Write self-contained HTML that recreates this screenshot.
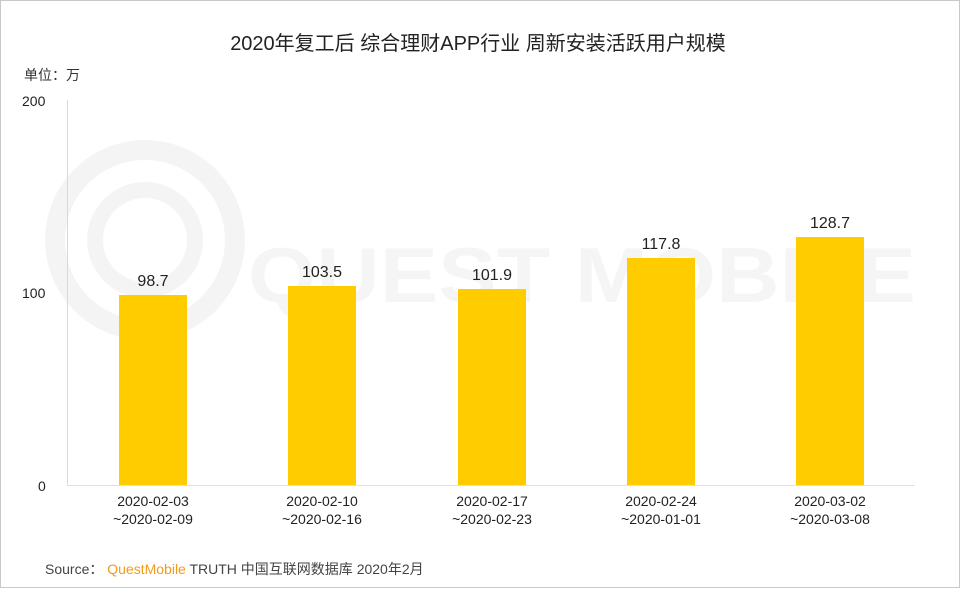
<!DOCTYPE html>
<html><head><meta charset="utf-8"><style>
body{margin:0;background:#fff}
svg text{font-family:"Liberation Sans","Noto Sans CJK SC",sans-serif}
</style></head><body>
<svg width="960" height="588" xmlns="http://www.w3.org/2000/svg">
<rect x="0.5" y="0.5" width="959" height="587" fill="#fff" stroke="#c8c8c8"/>
<g opacity="0.04" fill="none" stroke="#000">
<circle cx="145" cy="240" r="90" stroke-width="20"/>
<circle cx="145" cy="240" r="50" stroke-width="16"/>
</g>
<text x="248" y="302" font-size="78" fill="#000" opacity="0.035" font-weight="bold" textLength="668" lengthAdjust="spacingAndGlyphs">QUEST MOBILE</text>
<text x="478" y="50" font-size="20" text-anchor="middle" fill="#222">2020年复工后 综合理财APP行业 周新安装活跃用户规模</text>
<text x="24" y="80" font-size="14" fill="#333">单位：万</text>
<g font-size="14" fill="#222">
<text x="22" y="106">200</text>
<text x="22" y="298">100</text>
<text x="38" y="491">0</text>
</g>
<line x1="67.5" y1="100" x2="67.5" y2="486" stroke="#d8d8d8"/>
<line x1="67" y1="485.5" x2="915" y2="485.5" stroke="#e0e0e0"/>
<g fill="#FFCC00">
<rect x="119" y="295" width="68" height="190"/>
<rect x="288" y="286" width="68" height="199"/>
<rect x="458" y="289" width="68" height="196"/>
<rect x="627" y="258" width="68" height="227"/>
<rect x="796" y="237" width="68" height="248"/>
</g>
<g font-size="16" fill="#222" text-anchor="middle">
<text x="153" y="286">98.7</text>
<text x="322" y="277">103.5</text>
<text x="492" y="280">101.9</text>
<text x="661" y="249">117.8</text>
<text x="830" y="228">128.7</text>
</g>
<g font-size="14" fill="#222" text-anchor="middle">
<text x="153" y="506">2020-02-03</text><text x="153" y="524">~2020-02-09</text>
<text x="322" y="506">2020-02-10</text><text x="322" y="524">~2020-02-16</text>
<text x="492" y="506">2020-02-17</text><text x="492" y="524">~2020-02-23</text>
<text x="661" y="506">2020-02-24</text><text x="661" y="524">~2020-01-01</text>
<text x="830" y="506">2020-03-02</text><text x="830" y="524">~2020-03-08</text>
</g>
<text x="45" y="574" font-size="14" fill="#444">Source：  <tspan fill="#F39A1E">QuestMobile</tspan> TRUTH 中国互联网数据库 2020年2月</text>
</svg>
</body></html>
